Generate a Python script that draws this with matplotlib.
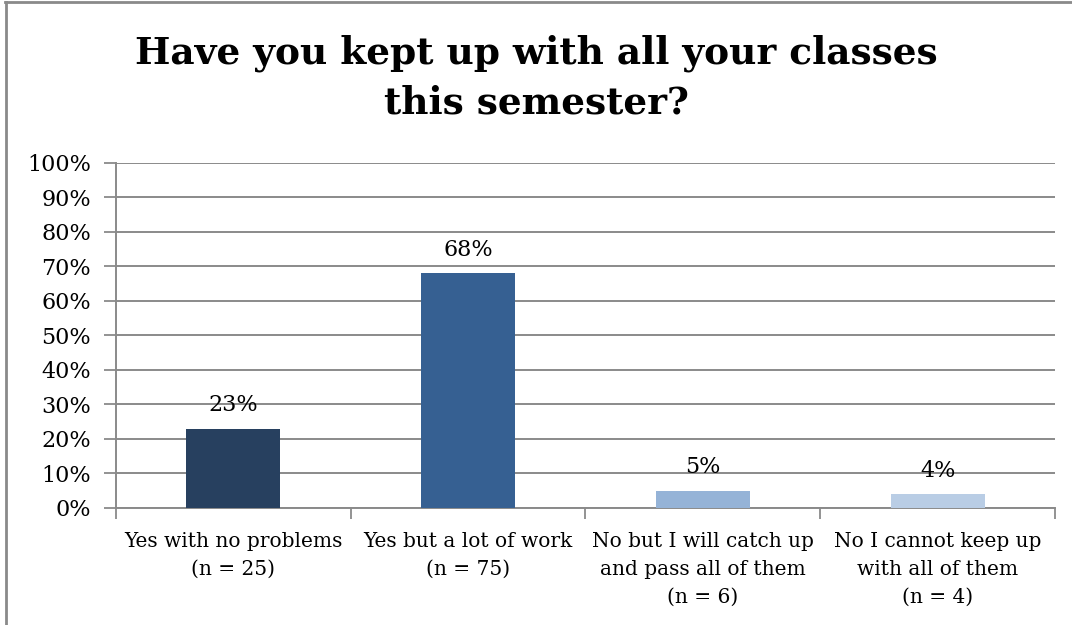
import matplotlib
import matplotlib.pyplot as plt
import numpy as np
from matplotlib.lines import Line2D

matplotlib.use("Agg")

categories = [
    "Yes with no problems\n(n = 25)",
    "Yes but a lot of work\n(n = 75)",
    "No but I will catch up\nand pass all of them\n(n = 6)",
    "No I cannot keep up\nwith all of them\n(n = 4)",
]
values = [23, 68, 5, 4]
value_labels = ["23%", "68%", "5%", "4%"]
y_ticks = [0, 10, 20, 30, 40, 50, 60, 70, 80, 90, 100]
bar_colors = ["#27405F", "#366092", "#95B3D7", "#B9CDE5"]

FONT = "DejaVu Serif"
GRID = "#8A8A8A"

fig = plt.figure(figsize=(10.72, 6.25), dpi=100)
ax = fig.add_axes([0.1082, 0.1872, 0.8759, 0.5525])

x = np.arange(len(values))
ax.bar(x, values, width=0.40, color=bar_colors, zorder=3)

# etiquetas de dados acima das barras
for xi, v, lab in zip(x, values, value_labels):
    ax.annotate(lab, (xi, v), xytext=(0, 9), textcoords="offset points",
                ha="center", va="bottom", fontsize=16, family=FONT, zorder=4)

ax.set_xlim(-0.5, len(values) - 0.5)
ax.set_ylim(0, 100)
ax.set_yticks(y_ticks)
ax.set_yticklabels([f"{t}%" for t in y_ticks], family=FONT, fontsize=16)

# ticks maiores nas divisões, rótulos nos centros
ax.set_xticks(np.arange(len(values) + 1) - 0.5)
ax.set_xticklabels([])
ax.set_xticks(x, minor=True)
ax.set_xticklabels(categories, minor=True, family=FONT, fontsize=14.5,
                   linespacing=1.6)
ax.tick_params(axis="x", which="minor", length=0, pad=17)
ax.tick_params(axis="x", which="major", length=8, width=1.3, color=GRID)
ax.tick_params(axis="y", length=9, width=1.3, color=GRID, pad=9)

ax.grid(axis="y", color=GRID, linewidth=1.4, zorder=0)
for side in ["top", "right"]:
    ax.spines[side].set_visible(False)
for side in ["left", "bottom"]:
    ax.spines[side].set_color(GRID)
    ax.spines[side].set_linewidth(1.4)

fig.text(0.5, 0.875, "Have you kept up with all your classes\nthis semester?",
         ha="center", va="center", fontsize=27, fontweight="bold",
         family=FONT, linespacing=1.45)

# moldura do gráfico (só topo e esquerda aparecem)
fig.add_artist(Line2D([0.005, 1.0], [0.9968, 0.9968], color=GRID, linewidth=2))
fig.add_artist(Line2D([0.0058, 0.0058], [0.0, 0.9968], color=GRID, linewidth=2))

plt.savefig("out.png", dpi=100)
plt.close(fig)
